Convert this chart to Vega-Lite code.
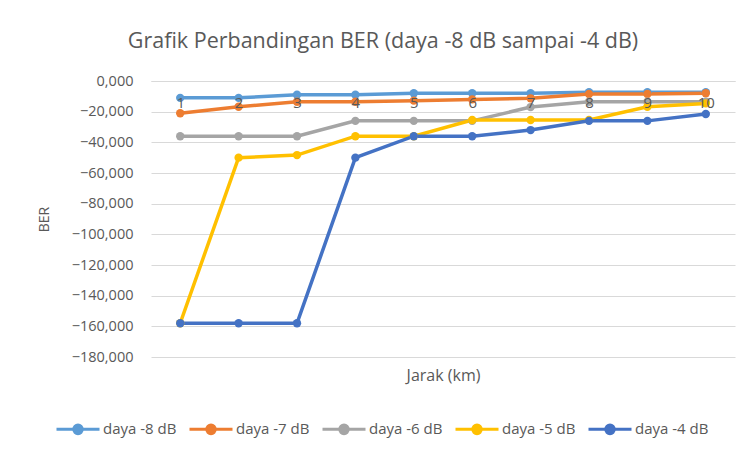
{
  "$schema": "https://vega.github.io/schema/vega-lite/v6.json",
  "autosize": "none",
  "width": 584,
  "height": 276,
  "padding": {"left": 151, "top": 81, "right": 11, "bottom": 98},
  "background": "white",
  "title": {
    "text": "Grafik Perbandingan BER (daya -8 dB sampai -4 dB)",
    "font": "Open Sans",
    "fontSize": 21.5,
    "fontWeight": "normal",
    "color": "#595959",
    "dx": -60,
    "offset": 21
  },
  "data": {
    "values": [
      {"jarak": 1, "seri": "daya -8 dB", "ber": -11},
      {"jarak": 2, "seri": "daya -8 dB", "ber": -11},
      {"jarak": 3, "seri": "daya -8 dB", "ber": -9},
      {"jarak": 4, "seri": "daya -8 dB", "ber": -9},
      {"jarak": 5, "seri": "daya -8 dB", "ber": -8},
      {"jarak": 6, "seri": "daya -8 dB", "ber": -8},
      {"jarak": 7, "seri": "daya -8 dB", "ber": -8},
      {"jarak": 8, "seri": "daya -8 dB", "ber": -7.3},
      {"jarak": 9, "seri": "daya -8 dB", "ber": -7.3},
      {"jarak": 10, "seri": "daya -8 dB", "ber": -7.3},
      {"jarak": 1, "seri": "daya -7 dB", "ber": -21},
      {"jarak": 2, "seri": "daya -7 dB", "ber": -16.8},
      {"jarak": 3, "seri": "daya -7 dB", "ber": -13.5},
      {"jarak": 4, "seri": "daya -7 dB", "ber": -13.5},
      {"jarak": 5, "seri": "daya -7 dB", "ber": -12.8},
      {"jarak": 6, "seri": "daya -7 dB", "ber": -12},
      {"jarak": 7, "seri": "daya -7 dB", "ber": -11.3},
      {"jarak": 8, "seri": "daya -7 dB", "ber": -8.5},
      {"jarak": 9, "seri": "daya -7 dB", "ber": -8.5},
      {"jarak": 10, "seri": "daya -7 dB", "ber": -8},
      {"jarak": 1, "seri": "daya -6 dB", "ber": -36},
      {"jarak": 2, "seri": "daya -6 dB", "ber": -36},
      {"jarak": 3, "seri": "daya -6 dB", "ber": -36},
      {"jarak": 4, "seri": "daya -6 dB", "ber": -26},
      {"jarak": 5, "seri": "daya -6 dB", "ber": -26},
      {"jarak": 6, "seri": "daya -6 dB", "ber": -26},
      {"jarak": 7, "seri": "daya -6 dB", "ber": -17},
      {"jarak": 8, "seri": "daya -6 dB", "ber": -13.5},
      {"jarak": 9, "seri": "daya -6 dB", "ber": -13.5},
      {"jarak": 10, "seri": "daya -6 dB", "ber": -13.5},
      {"jarak": 1, "seri": "daya -5 dB", "ber": -158},
      {"jarak": 2, "seri": "daya -5 dB", "ber": -50},
      {"jarak": 3, "seri": "daya -5 dB", "ber": -48.3},
      {"jarak": 4, "seri": "daya -5 dB", "ber": -36},
      {"jarak": 5, "seri": "daya -5 dB", "ber": -36},
      {"jarak": 6, "seri": "daya -5 dB", "ber": -25.4},
      {"jarak": 7, "seri": "daya -5 dB", "ber": -25.4},
      {"jarak": 8, "seri": "daya -5 dB", "ber": -25.4},
      {"jarak": 9, "seri": "daya -5 dB", "ber": -16.8},
      {"jarak": 10, "seri": "daya -5 dB", "ber": -14.6},
      {"jarak": 1, "seri": "daya -4 dB", "ber": -158},
      {"jarak": 2, "seri": "daya -4 dB", "ber": -158},
      {"jarak": 3, "seri": "daya -4 dB", "ber": -158},
      {"jarak": 4, "seri": "daya -4 dB", "ber": -50},
      {"jarak": 5, "seri": "daya -4 dB", "ber": -36},
      {"jarak": 6, "seri": "daya -4 dB", "ber": -36},
      {"jarak": 7, "seri": "daya -4 dB", "ber": -32},
      {"jarak": 8, "seri": "daya -4 dB", "ber": -26},
      {"jarak": 9, "seri": "daya -4 dB", "ber": -26},
      {"jarak": 10, "seri": "daya -4 dB", "ber": -21.5}
    ]
  },
  "mark": {"type": "line", "strokeWidth": 3.5, "point": {"filled": true, "size": 70, "opacity": 1}},
  "encoding": {
    "x": {
      "field": "jarak",
      "type": "ordinal",
      "scale": {"padding": 0.5},
      "axis": {
        "orient": "bottom",
        "offset": -276,
        "zindex": 1,
        "title": "Jarak (km)",
        "titleY": 294,
        "titleBaseline": "middle",
        "titleFont": "Open Sans",
        "titleFontSize": 16,
        "titleFontWeight": "normal",
        "titleColor": "#595959",
        "labelAngle": 0,
        "labelFont": "Open Sans",
        "labelFontSize": 15,
        "labelColor": "#595959",
        "labelPadding": 14,
        "ticks": false,
        "domainColor": "#D9D9D9",
        "grid": false
      }
    },
    "y": {
      "field": "ber",
      "type": "quantitative",
      "scale": {"domain": [-180, 0], "nice": false, "zero": false},
      "axis": {
        "values": [0, -20, -40, -60, -80, -100, -120, -140, -160, -180],
        "labelExpr": "replace(format(datum.value, ',.3f'), '.', ',')",
        "title": "BER",
        "titleFont": "Open Sans",
        "titleFontSize": 14,
        "titleFontWeight": "normal",
        "titleColor": "#595959",
        "titlePadding": 20,
        "labelFont": "Open Sans",
        "labelFontSize": 14.5,
        "labelColor": "#595959",
        "labelPadding": 18,
        "ticks": false,
        "domain": false,
        "gridColor": "#D9D9D9",
        "gridWidth": 1
      }
    },
    "color": {
      "field": "seri",
      "type": "nominal",
      "sort": ["daya -8 dB", "daya -7 dB", "daya -6 dB", "daya -5 dB", "daya -4 dB"],
      "scale": {
        "domain": ["daya -8 dB", "daya -7 dB", "daya -6 dB", "daya -5 dB", "daya -4 dB"],
        "range": ["#5B9BD5", "#ED7D31", "#A5A5A5", "#FFC000", "#4472C4"]
      },
      "legend": {
        "title": null,
        "orient": "none",
        "legendX": -96,
        "legendY": 325,
        "direction": "horizontal",
        "columns": 5,
        "columnPadding": 6,
        "symbolType": "M-1,0L1,0M-0.2,0A0.2,0.2 0 1,1 0.2,0A0.2,0.2 0 1,1 -0.2,0Z",
        "symbolSize": 1849,
        "symbolStrokeWidth": 3,
        "labelFont": "Open Sans",
        "labelFontSize": 15,
        "labelColor": "#595959",
        "labelOffset": 2,
        "encode": {
          "symbols": {
            "update": {
              "fill": {"scale": "color", "field": "value"},
              "stroke": {"scale": "color", "field": "value"},
              "opacity": {"value": 1}
            }
          }
        }
      }
    }
  },
  "config": {"view": {"stroke": null}}
}
